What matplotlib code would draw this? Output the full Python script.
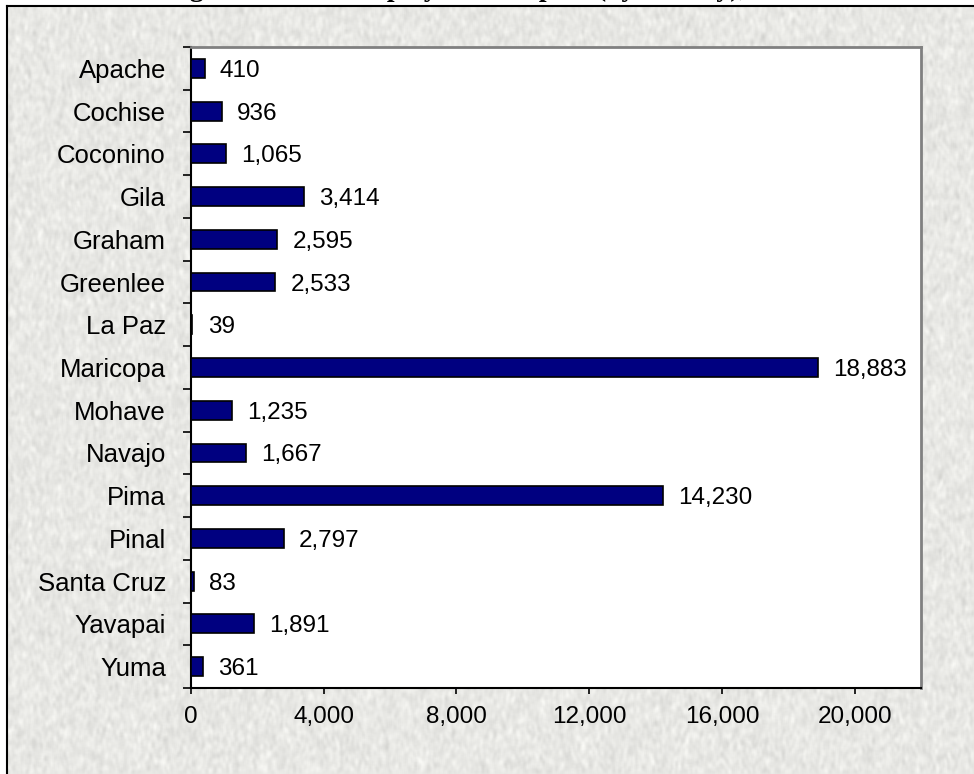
import numpy as np
import matplotlib
matplotlib.use("Agg")
import matplotlib.pyplot as plt
from matplotlib.lines import Line2D
from matplotlib.ticker import FuncFormatter

counties = ["Apache", "Cochise", "Coconino", "Gila", "Graham", "Greenlee", "La Paz",
            "Maricopa", "Mohave", "Navajo", "Pima", "Pinal", "Santa Cruz", "Yavapai", "Yuma"]
employment = [410, 936, 1065, 3414, 2595, 2533, 39, 18883, 1235, 1667, 14230, 2797, 83, 1891, 361]
xticks = [0, 4000, 8000, 12000, 16000, 20000]

W, H = 974, 774
fig = plt.figure(figsize=(W / 100, H / 100), dpi=100)
fig.patch.set_facecolor("white")

# speckled grey paper behind the chart
rng = np.random.default_rng(7)
noise = rng.normal(0, 1, (H, W))
for _ in range(2):
    noise = np.apply_along_axis(lambda r: np.convolve(r, np.ones(3) / 3, mode="same"), 1, noise)
    noise = np.apply_along_axis(lambda c: np.convolve(c, np.ones(5) / 5, mode="same"), 0, noise)
tex = np.clip(0.91 + 0.10 * noise, 0.70, 1.0)
rgb = np.dstack([tex, tex, tex * 0.985])
rgb[:6, :, :] = 1.0
rgb[:, :7, :] = 1.0
fig.figimage(rgb, xo=0, yo=0, origin="upper", zorder=-10)

# frame lines on top and left
fig.add_artist(Line2D([7 / W, 1], [1 - 6 / H, 1 - 6 / H], color="black", lw=1.5, transform=fig.transFigure))
fig.add_artist(Line2D([7 / W, 7 / W], [0, 1 - 6 / H], color="black", lw=1.5, transform=fig.transFigure))

fig.text(0.5, 1 + 4 / H, "Figure 4. Total Employment Impact (by County), 2006",
         ha="center", va="baseline", fontsize=20, fontweight="bold", family="Liberation Serif")

ax = fig.add_axes([191 / W, 86 / H, 730 / W, 641 / H])
ax.set_facecolor("white")
y = np.arange(len(counties))
ax.barh(y, employment, height=0.44, color="#000080", edgecolor="black", linewidth=1.2, zorder=3)
for yi, v in zip(y, employment):
    ax.annotate(f"{v:,}", (v, yi), xytext=(11, 0), textcoords="offset points",
                va="center_baseline", ha="left", fontsize=17.5, family="Liberation Sans")

ax.set_ylim(len(counties) - 0.5, -0.5)
ax.set_xlim(0, 22000)
ax.set_yticks(y)
ax.set_yticklabels(counties, fontsize=18.5, family="Liberation Sans", va="center_baseline")
ax.set_yticks(np.arange(len(counties) + 1) - 0.5, minor=True)
ax.tick_params(axis="y", which="major", length=0, pad=18)
ax.tick_params(axis="y", which="minor", length=6, width=1.2, color="black")
ax.set_xticks(xticks)
ax.xaxis.set_major_formatter(FuncFormatter(lambda v, p: f"{int(v):,}"))
ax.tick_params(axis="x", length=4, width=1.2, pad=9, labelsize=17.5)
for lab in ax.get_xticklabels():
    lab.set_family("Liberation Sans")

ax.spines["left"].set_color("black")
ax.spines["bottom"].set_color("black")
ax.spines["left"].set_linewidth(1.5)
ax.spines["bottom"].set_linewidth(1.5)
ax.spines["top"].set_color("#808080")
ax.spines["right"].set_color("#808080")
ax.spines["top"].set_linewidth(2)
ax.spines["right"].set_linewidth(2)

fig.savefig("out.png", dpi=100, facecolor=fig.get_facecolor())
